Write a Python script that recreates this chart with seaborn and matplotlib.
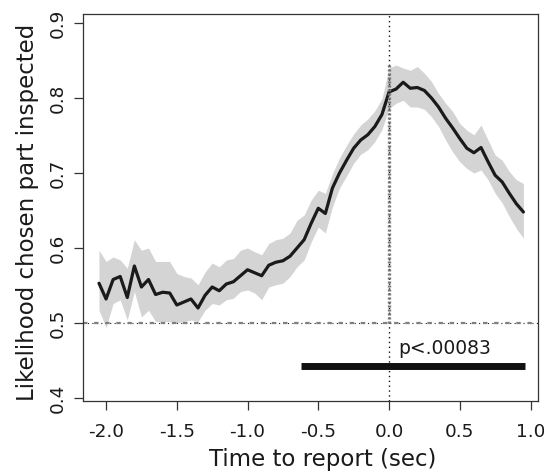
import numpy as np
import pandas as pd
import matplotlib
matplotlib.use("Agg")
import matplotlib.pyplot as plt
import seaborn as sns

sns.set_theme(style="ticks")
plt.rcParams["font.family"] = ["DejaVu Sans"]

# time points, 0.05 s apart
time = [round(-2.05 + 0.05 * i, 2) for i in range(61)]

likelihood = [
    0.553, 0.532, 0.558, 0.562, 0.534, 0.576, 0.548, 0.558, 0.538, 0.541,
    0.540, 0.524, 0.528, 0.532, 0.520, 0.537, 0.548, 0.543, 0.552, 0.555,
    0.563, 0.571, 0.567, 0.563, 0.577, 0.581, 0.583, 0.589, 0.600, 0.611,
    0.633, 0.653, 0.646, 0.680, 0.700, 0.717, 0.733, 0.744, 0.751, 0.762,
    0.778, 0.808, 0.812, 0.821, 0.813, 0.814, 0.810, 0.800, 0.788, 0.773,
    0.760, 0.746, 0.733, 0.727, 0.734, 0.715, 0.697, 0.688, 0.673, 0.659,
    0.648,
]
upper = [
    0.597, 0.582, 0.588, 0.584, 0.573, 0.611, 0.597, 0.600, 0.582, 0.582,
    0.582, 0.566, 0.562, 0.560, 0.551, 0.568, 0.580, 0.575, 0.584, 0.586,
    0.597, 0.600, 0.595, 0.591, 0.606, 0.611, 0.613, 0.620, 0.637, 0.644,
    0.664, 0.677, 0.673, 0.699, 0.720, 0.737, 0.752, 0.764, 0.772, 0.783,
    0.799, 0.840, 0.844, 0.840, 0.837, 0.842, 0.833, 0.822, 0.806, 0.793,
    0.782, 0.766, 0.757, 0.751, 0.764, 0.744, 0.724, 0.717, 0.702, 0.691,
    0.686,
]
lower = [
    0.517, 0.494, 0.526, 0.531, 0.504, 0.542, 0.508, 0.517, 0.502, 0.502,
    0.502, 0.500, 0.502, 0.504, 0.502, 0.517, 0.526, 0.524, 0.531, 0.533,
    0.542, 0.544, 0.540, 0.531, 0.548, 0.551, 0.553, 0.562, 0.575, 0.584,
    0.608, 0.628, 0.620, 0.655, 0.680, 0.696, 0.713, 0.725, 0.731, 0.742,
    0.758, 0.786, 0.793, 0.797, 0.788, 0.788, 0.785, 0.775, 0.762, 0.744,
    0.728, 0.715, 0.706, 0.700, 0.704, 0.691, 0.673, 0.660, 0.642, 0.626,
    0.613,
]

chance = 0.5
report_time = 0.0
report_top = 0.847
sig_start, sig_end, sig_y = -0.625, 0.96, 0.443
sig_label = "p<.00083"

xticks = [-2.0, -1.5, -1.0, -0.5, 0.0, 0.5, 1.0]
yticks = [0.4, 0.5, 0.6, 0.7, 0.8, 0.9]

df = pd.DataFrame({"time": time, "likelihood": likelihood,
                   "lower": lower, "upper": upper})

fig = plt.figure(figsize=(5.44, 4.72), dpi=100)
ax = fig.add_axes([83 / 544, 71 / 472, 455 / 544, 387 / 472])

ax.fill_between(df["time"], df["lower"], df["upper"], color="#d4d4d4", lw=0, zorder=1)
sns.lineplot(data=df, x="time", y="likelihood", color="#1a1a1a", lw=2.3, ax=ax, zorder=3)

# reference lines
ax.axhline(chance, color="#222222", lw=0.8, ls=(0, (1, 3)), zorder=2)
ax.axhline(chance, color="#808080", lw=1.6, ls=(0, (2, 3)), zorder=2)
ax.axvline(report_time, color="#111111", lw=1.0, ls=(0, (1, 2.5)), zorder=4)
ax.plot([report_time, report_time], [chance, report_top], color="#777777",
        lw=2.4, ls=(0, (0.6, 0.6)), zorder=4)

# significance bar
ax.plot([sig_start, sig_end], [sig_y, sig_y], color="#111111", lw=5,
        solid_capstyle="butt", zorder=5)
ax.text(0.064, 0.466, sig_label, fontsize=13.5, color="#1a1a1a",
        ha="left", va="center")

ax.set_xlim(-2.163, 1.053)
ax.set_ylim(0.396, 0.912)
ax.set_xticks(xticks)
ax.set_xticklabels([f"{t:.1f}" for t in xticks])
ax.set_yticks(yticks)
ax.set_yticklabels([f"{t:.1f}" for t in yticks])
ax.tick_params(axis="both", direction="out", length=6.5, width=0.9,
               colors="#333333", labelsize=13.2, labelcolor="#1a1a1a")
ax.tick_params(axis="x", pad=9.5)
ax.tick_params(axis="y", pad=5)
for lab in ax.get_yticklabels():
    lab.set_rotation(90)
    lab.set_va("center")
    lab.set_ha("right")

for side in ["top", "right", "bottom", "left"]:
    ax.spines[side].set_visible(True)
    ax.spines[side].set_color("#333333")
    ax.spines[side].set_linewidth(0.9)

ax.set_xlabel("Time to report (sec)", fontsize=16.5, color="#1a1a1a")
ax.set_ylabel("Likelihood chosen part inspected", fontsize=16.5, color="#1a1a1a")
ax.xaxis.label.set_va("center")
ax.yaxis.label.set_va("center")
ax.xaxis.set_label_coords(0.527, -0.152)
ax.yaxis.set_label_coords(-0.121, 0.488)

fig.savefig("out.png", dpi=100)
